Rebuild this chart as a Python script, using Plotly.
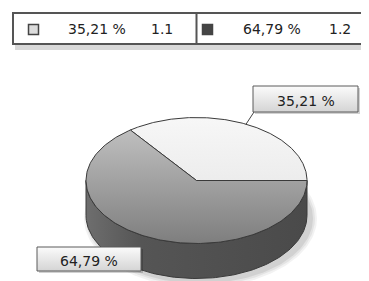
import numpy as np
import plotly.graph_objects as go

# ---------------- data ----------------
categories = ["1.1", "1.2"]
values = [35.21, 64.79]
pct_labels = [f"{v:.2f}".replace(".", ",") + " %" for v in values]

# ---------------- style ----------------
W, H = 369, 281
OFF = 8  # page body margin
CX, CY = 196.5, 180.5
RX, RY = 110.5, 63.0
DEPTH = 35.0
FONT = "DejaVu Sans"
EDGE = "#3a3a3a"
top_scales = [
    [[0, "#e2e2e2"], [1, "#f7f7f7"]],
    [[0, "#7e7e7e"], [1, "#c6c6c6"]],
]
side_scales = [
    [[0, "#9a9a9a"], [1, "#b0b0b0"]],
    [[0, "#6e6e6e"], [0.25, "#555555"], [1, "#4a4a4a"]],
]
legend_marker_colors = ["#dcdcdc", "#454545"]
legend_text_x = [(97, 162), (272, 340)]
legend_marker_x = [33.5, 207.5]
label_boxes = [(253, 86, 358, 112), (37, 247, 141, 271)]


def Y(py):
    return H - py


def ell(t_deg, dy=0.0):
    t = np.radians(t_deg)
    return CX + RX * np.cos(t), Y(CY - RY * np.sin(t) + dy)


fig = go.Figure()

# soft shadow under the pie
for k, op in [(6, 0.05), (4, 0.06), (2, 0.08)]:
    tt = np.linspace(0, 360, 200)
    sx = CX + 4 + (RX + k) * np.cos(np.radians(tt))
    sy = Y(CY + DEPTH + 3 - (RY + k) * np.sin(np.radians(tt)))
    fig.add_trace(go.Scatter(x=sx, y=sy, mode="lines", fill="toself",
                             fillcolor=f"rgba(0,0,0,{op})", line=dict(width=0),
                             hoverinfo="skip", showlegend=False))

total = sum(values)
angles = np.cumsum([0] + [v / total * 360 for v in values])

# sides (visible front half: 180..360 degrees)
for i in range(len(values)):
    a0, a1 = max(angles[i], 180), min(angles[i + 1], 360)
    if a1 <= a0:
        continue
    tt = np.linspace(a0, a1, 120)
    xs_top, ys_top = ell(tt)
    xs_bot, ys_bot = ell(tt[::-1], DEPTH)
    xs = np.concatenate([xs_top, xs_bot, xs_top[:1]])
    ys = np.concatenate([ys_top, ys_bot, ys_top[:1]])
    fig.add_trace(go.Scatter(
        x=xs, y=ys, mode="lines", fill="toself",
        fillgradient=dict(type="horizontal", colorscale=side_scales[i],
                          start=CX - RX, stop=CX + RX),
        line=dict(color=EDGE, width=1), hoverinfo="skip", showlegend=False))

# top faces
for i in range(len(values)):
    tt = np.linspace(angles[i], angles[i + 1], 200)
    ex, ey = ell(tt)
    xs = np.concatenate([[CX], ex, [CX]])
    ys = np.concatenate([[Y(CY)], ey, [Y(CY)]])
    fig.add_trace(go.Scatter(
        x=xs, y=ys, mode="lines", fill="toself",
        fillgradient=dict(type="vertical", colorscale=top_scales[i],
                          start=Y(CY + RY), stop=Y(CY - RY)),
        line=dict(color=EDGE, width=1), hoverinfo="skip", showlegend=False))

# labels
annotations = []
for i, (x0, y0, x1, y1) in enumerate(label_boxes):
    fig.add_trace(go.Scatter(
        x=[x0 + 2, x1 + 2, x1 + 2, x0 + 2, x0 + 2],
        y=[Y(y0 + 2), Y(y0 + 2), Y(y1 + 2), Y(y1 + 2), Y(y0 + 2)],
        mode="lines", fill="toself", fillcolor="rgba(0,0,0,0.18)",
        line=dict(width=0), hoverinfo="skip", showlegend=False))
    fig.add_trace(go.Scatter(
        x=[x0, x1, x1, x0, x0], y=[Y(y0), Y(y0), Y(y1), Y(y1), Y(y0)],
        mode="lines", fill="toself",
        fillgradient=dict(type="vertical",
                          colorscale=[[0, "#d4d4d4"], [1, "#fbfbfb"]],
                          start=Y(y1), stop=Y(y0)),
        line=dict(color="#5a5a5a", width=1), hoverinfo="skip",
        showlegend=False))
    annotations.append(dict(x=(x0 + x1) / 2, y=Y((y0 + y1) / 2 + 1.5),
                            text=pct_labels[i], showarrow=False,
                            font=dict(family=FONT, size=14, color="#222"),
                            xref="x", yref="y"))

# leader line for first slice
mid0 = (angles[0] + angles[1]) / 2
mx, my = ell(mid0)
fig.add_trace(go.Scatter(x=[mx, label_boxes[0][0] + 1], y=[my, Y(label_boxes[0][3])],
                         mode="lines", line=dict(color="#444", width=1),
                         hoverinfo="skip", showlegend=False))

# legend box
shapes = [
    dict(type="rect", x0=15, x1=390, y0=Y(50), y1=Y(15),
         fillcolor="rgba(0,0,0,0.15)", line=dict(width=0), layer="below"),
    dict(type="rect", x0=13, x1=390, y0=Y(44), y1=Y(13),
         fillcolor="white", line=dict(color="#555", width=2), layer="below"),
    dict(type="line", x0=196.5, x1=196.5, y0=Y(44), y1=Y(13),
         line=dict(color="#555", width=2), layer="below"),
]
fig.add_trace(go.Scatter(
    x=legend_marker_x, y=[Y(29.5)] * 2, mode="markers",
    marker=dict(symbol="square", size=10, color=legend_marker_colors,
                line=dict(color="#444", width=1.5)),
    hoverinfo="skip", showlegend=False))
for i in range(len(values)):
    annotations.append(dict(x=legend_text_x[i][0], y=Y(29), text=pct_labels[i],
                            showarrow=False, xref="x", yref="y",
                            font=dict(family=FONT, size=14, color="#222")))
    annotations.append(dict(x=legend_text_x[i][1], y=Y(29), text=categories[i],
                            showarrow=False, xref="x", yref="y",
                            font=dict(family=FONT, size=14, color="#222")))

fig.update_layout(
    width=W, height=H, margin=dict(l=0, r=0, t=0, b=0),
    paper_bgcolor="white", plot_bgcolor="white",
    xaxis=dict(range=[OFF, W + OFF], visible=False, fixedrange=True),
    yaxis=dict(range=[-OFF, H - OFF], visible=False, fixedrange=True),
    shapes=shapes, annotations=annotations, showlegend=False,
)

fig.write_html("out.html")
